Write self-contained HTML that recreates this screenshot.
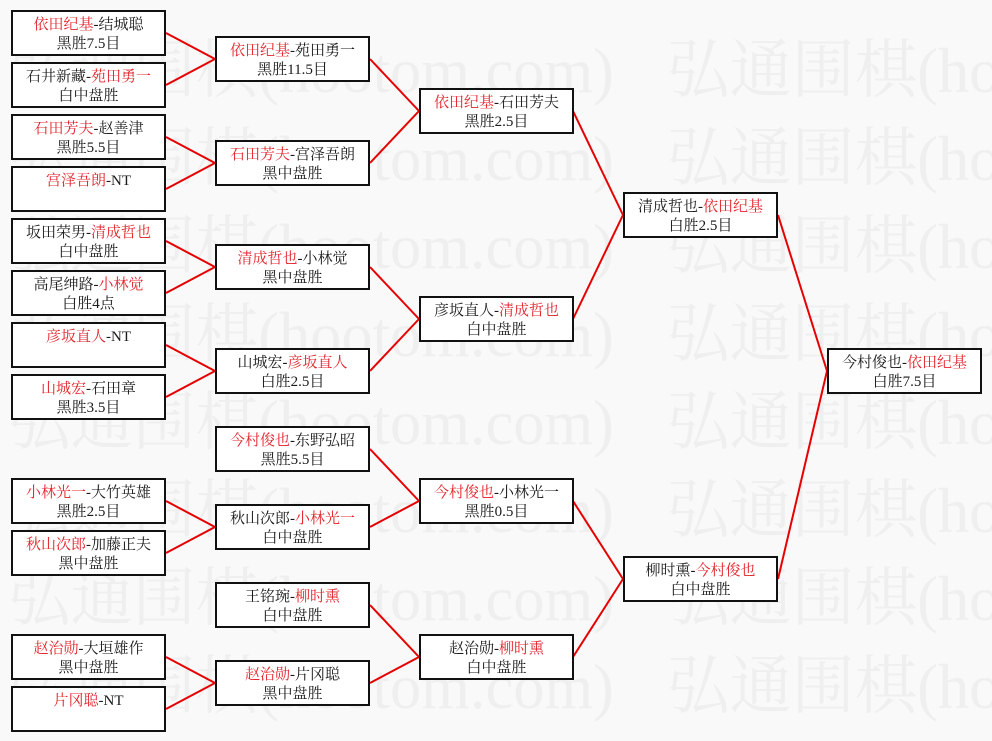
<!DOCTYPE html>
<html>
<head>
<meta charset="utf-8">
<style>
  html, body { margin:0; padding:0; }
  body { width:992px; height:741px; position:relative; overflow:hidden; background:#f9f9f9; }
  svg.bg { position:absolute; left:0; top:0; }
  .b { position:absolute; width:155px; height:46px; box-sizing:border-box; border:2px solid #111;
       background:#fff; text-align:center; font-family:"Liberation Serif","Noto Serif CJK SC",serif;
       font-size:15px; line-height:19px; padding-top:4px; color:#1a1a1a; white-space:nowrap; }
  .r { color:#e3242c; }
</style>
</head>
<body>
<svg class="bg" width="992" height="741" viewBox="0 0 992 741" xmlns="http://www.w3.org/2000/svg">
  <g fill="#efefef" font-family="Liberation Serif, Noto Serif CJK SC, serif" font-size="64">
    <text x="8" y="92" textLength="606" lengthAdjust="spacingAndGlyphs">弘通围棋(hootom.com)</text>
    <text x="667" y="92" textLength="606" lengthAdjust="spacingAndGlyphs">弘通围棋(hootom.com)</text>
    <text x="8" y="180" textLength="606" lengthAdjust="spacingAndGlyphs">弘通围棋(hootom.com)</text>
    <text x="667" y="180" textLength="606" lengthAdjust="spacingAndGlyphs">弘通围棋(hootom.com)</text>
    <text x="8" y="268" textLength="606" lengthAdjust="spacingAndGlyphs">弘通围棋(hootom.com)</text>
    <text x="667" y="268" textLength="606" lengthAdjust="spacingAndGlyphs">弘通围棋(hootom.com)</text>
    <text x="8" y="356" textLength="606" lengthAdjust="spacingAndGlyphs">弘通围棋(hootom.com)</text>
    <text x="667" y="356" textLength="606" lengthAdjust="spacingAndGlyphs">弘通围棋(hootom.com)</text>
    <text x="8" y="444" textLength="606" lengthAdjust="spacingAndGlyphs">弘通围棋(hootom.com)</text>
    <text x="667" y="444" textLength="606" lengthAdjust="spacingAndGlyphs">弘通围棋(hootom.com)</text>
    <text x="8" y="532" textLength="606" lengthAdjust="spacingAndGlyphs">弘通围棋(hootom.com)</text>
    <text x="667" y="532" textLength="606" lengthAdjust="spacingAndGlyphs">弘通围棋(hootom.com)</text>
    <text x="8" y="620" textLength="606" lengthAdjust="spacingAndGlyphs">弘通围棋(hootom.com)</text>
    <text x="667" y="620" textLength="606" lengthAdjust="spacingAndGlyphs">弘通围棋(hootom.com)</text>
    <text x="8" y="708" textLength="606" lengthAdjust="spacingAndGlyphs">弘通围棋(hootom.com)</text>
    <text x="667" y="708" textLength="606" lengthAdjust="spacingAndGlyphs">弘通围棋(hootom.com)</text>
  </g>
  <g stroke="#e60000" stroke-width="2" fill="none">
    <line x1="166" y1="33" x2="215" y2="59"/>
    <line x1="166" y1="85" x2="215" y2="59"/>
    <line x1="166" y1="137" x2="215" y2="163"/>
    <line x1="166" y1="189" x2="215" y2="163"/>
    <line x1="166" y1="241" x2="215" y2="267"/>
    <line x1="166" y1="293" x2="215" y2="267"/>
    <line x1="166" y1="345" x2="215" y2="371"/>
    <line x1="166" y1="397" x2="215" y2="371"/>
    <line x1="166" y1="501" x2="215" y2="527"/>
    <line x1="166" y1="553" x2="215" y2="527"/>
    <line x1="166" y1="657" x2="215" y2="683"/>
    <line x1="166" y1="709" x2="215" y2="683"/>
    <line x1="370" y1="59" x2="419" y2="111"/>
    <line x1="370" y1="163" x2="419" y2="111"/>
    <line x1="370" y1="267" x2="419" y2="319"/>
    <line x1="370" y1="371" x2="419" y2="319"/>
    <line x1="370" y1="449" x2="419" y2="501"/>
    <line x1="370" y1="527" x2="419" y2="501"/>
    <line x1="370" y1="605" x2="419" y2="657"/>
    <line x1="370" y1="683" x2="419" y2="657"/>
    <line x1="573" y1="111" x2="623" y2="215"/>
    <line x1="573" y1="319" x2="623" y2="215"/>
    <line x1="573" y1="501" x2="623" y2="579"/>
    <line x1="573" y1="657" x2="623" y2="579"/>
    <line x1="778" y1="215" x2="827" y2="371"/>
    <line x1="778" y1="579" x2="827" y2="371"/>
  </g>
</svg>

<div class="b" style="left:11px;top:10px;"><span class="r">依田纪基</span>-结城聪<br>黑胜7.5目</div>
<div class="b" style="left:11px;top:62px;">石井新藏-<span class="r">苑田勇一</span><br>白中盘胜</div>
<div class="b" style="left:11px;top:114px;"><span class="r">石田芳夫</span>-赵善津<br>黑胜5.5目</div>
<div class="b" style="left:11px;top:166px;"><span class="r">宫泽吾朗</span>-NT<br></div>
<div class="b" style="left:11px;top:218px;">坂田荣男-<span class="r">清成哲也</span><br>白中盘胜</div>
<div class="b" style="left:11px;top:270px;">高尾绅路-<span class="r">小林觉</span><br>白胜4点</div>
<div class="b" style="left:11px;top:322px;"><span class="r">彦坂直人</span>-NT<br></div>
<div class="b" style="left:11px;top:374px;"><span class="r">山城宏</span>-石田章<br>黑胜3.5目</div>
<div class="b" style="left:11px;top:478px;"><span class="r">小林光一</span>-大竹英雄<br>黑胜2.5目</div>
<div class="b" style="left:11px;top:530px;"><span class="r">秋山次郎</span>-加藤正夫<br>黑中盘胜</div>
<div class="b" style="left:11px;top:634px;"><span class="r">赵治勋</span>-大垣雄作<br>黑中盘胜</div>
<div class="b" style="left:11px;top:686px;"><span class="r">片冈聪</span>-NT<br></div>

<div class="b" style="left:215px;top:36px;"><span class="r">依田纪基</span>-苑田勇一<br>黑胜11.5目</div>
<div class="b" style="left:215px;top:140px;"><span class="r">石田芳夫</span>-宫泽吾朗<br>黑中盘胜</div>
<div class="b" style="left:215px;top:244px;"><span class="r">清成哲也</span>-小林觉<br>黑中盘胜</div>
<div class="b" style="left:215px;top:348px;">山城宏-<span class="r">彦坂直人</span><br>白胜2.5目</div>
<div class="b" style="left:215px;top:426px;"><span class="r">今村俊也</span>-东野弘昭<br>黑胜5.5目</div>
<div class="b" style="left:215px;top:504px;">秋山次郎-<span class="r">小林光一</span><br>白中盘胜</div>
<div class="b" style="left:215px;top:582px;">王铭琬-<span class="r">柳时熏</span><br>白中盘胜</div>
<div class="b" style="left:215px;top:660px;"><span class="r">赵治勋</span>-片冈聪<br>黑中盘胜</div>

<div class="b" style="left:419px;top:88px;"><span class="r">依田纪基</span>-石田芳夫<br>黑胜2.5目</div>
<div class="b" style="left:419px;top:296px;">彦坂直人-<span class="r">清成哲也</span><br>白中盘胜</div>
<div class="b" style="left:419px;top:478px;"><span class="r">今村俊也</span>-小林光一<br>黑胜0.5目</div>
<div class="b" style="left:419px;top:634px;">赵治勋-<span class="r">柳时熏</span><br>白中盘胜</div>

<div class="b" style="left:623px;top:192px;">清成哲也-<span class="r">依田纪基</span><br>白胜2.5目</div>
<div class="b" style="left:623px;top:556px;">柳时熏-<span class="r">今村俊也</span><br>白中盘胜</div>

<div class="b" style="left:827px;top:348px;">今村俊也-<span class="r">依田纪基</span><br>白胜7.5目</div>
</body>
</html>
